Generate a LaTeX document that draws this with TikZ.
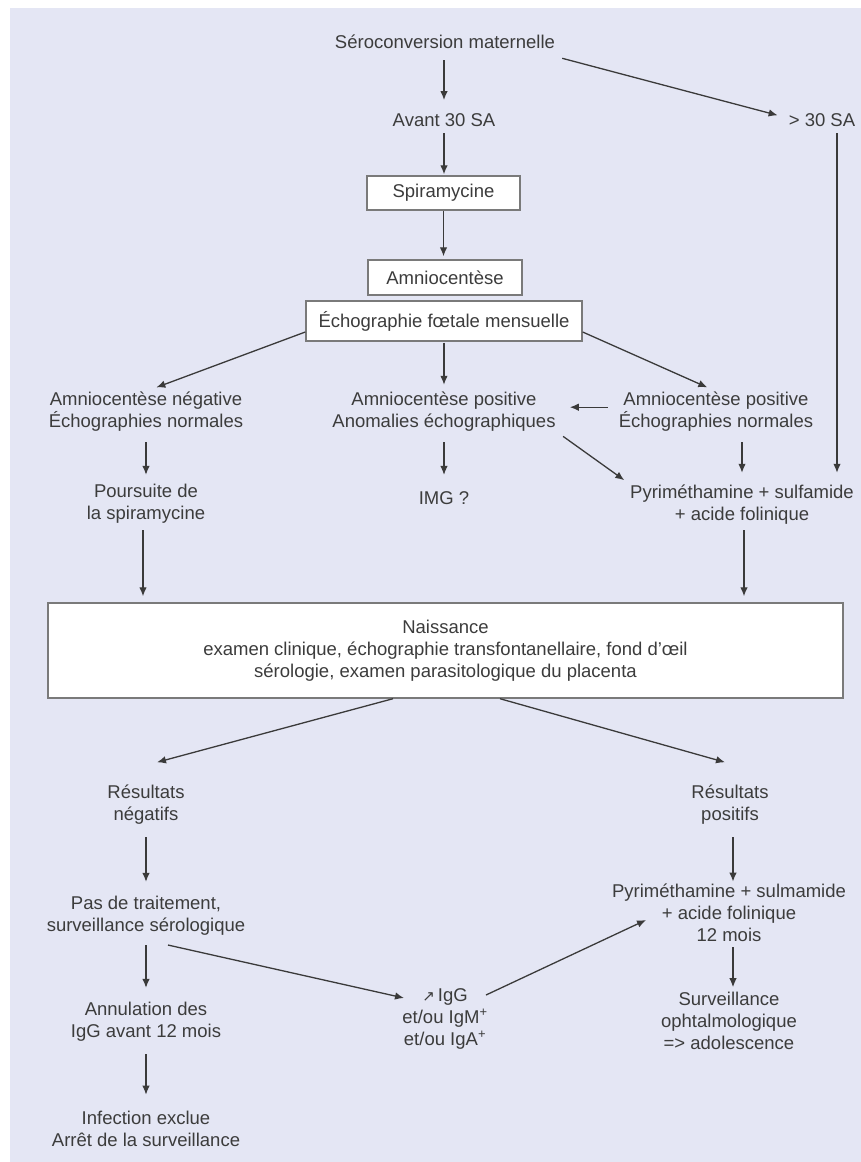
\documentclass[tikz,border=0pt]{standalone}
\usepackage{fontspec}
\setmainfont{Liberation Sans}
\newfontfamily\symfont{DejaVu Sans}
\usetikzlibrary{arrows.meta}
\definecolor{bgcol}{HTML}{E4E6F4}
\definecolor{txtcol}{HTML}{3C3C3C}
\definecolor{lncol}{HTML}{3A3A3A}
\definecolor{boxcol}{HTML}{7A7A7A}
\begin{document}
\begin{tikzpicture}[x=1pt,y=-1pt,
  txt/.style={font=\fontsize{18.5}{22}\selectfont, text=txtcol, align=center, inner sep=0pt},
  bx/.style={txt, draw=boxcol, fill=white, line width=1.4pt},
  arr/.style={draw=lncol, line width=1.3pt, -{Latex[length=9pt,width=7.5pt]}}]
\useasboundingbox (0,0) rectangle (861,1162);
\fill[bgcol] (10,8) rectangle (861,1162);

% text nodes
\node[txt] (sero) at (445,41.3) {Séroconversion maternelle};
\node[txt] (avant) at (444,120.3) {Avant 30 SA};
\node[txt] (plus) at (822,120.3) {> 30 SA};
\node[bx, minimum width=153pt, minimum height=34pt] (spira) at (443.5,193) {Spiramycine};
\node[bx, minimum width=154pt, minimum height=35pt] (amnio) at (445,277.5) {Amniocentèse};
\node[bx, minimum width=276pt, minimum height=40pt] (ech) at (444,321) {Échographie fœtale mensuelle};
\node[txt] (aneg) at (146,411.2) {Amniocentèse négative\\Échographies normales};
\node[txt] (apos) at (444,411.2) {Amniocentèse positive\\Anomalies échographiques};
\node[txt] (aposn) at (716,411.2) {Amniocentèse positive\\Échographies normales};
\node[txt] (pours) at (146,504.2) {Poursuite de\\la spiramycine};
\node[txt] (img) at (444,498.2) {IMG ?};
\node[txt] (pyr) at (742,504.2) {Pyriméthamine + sulfamide\\+ acide folinique};
\node[bx, minimum width=795pt, minimum height=95pt] (nais) at (445.5,650.5)
  {Naissance\\examen clinique, échographie transfontanellaire, fond d'œil\\sérologie, examen parasitologique du placenta};
\node[txt] (resneg) at (146,804.2) {Résultats\\négatifs};
\node[txt] (respos) at (730,804.2) {Résultats\\positifs};
\node[txt] (pas) at (146,916.2) {Pas de traitement,\\surveillance sérologique};
\node[txt] (pyr2) at (729,913.2) {Pyriméthamine + sulmamide\\+ acide folinique\\12 mois};
\node[txt] (annul) at (146,1022.2) {Annulation des\\IgG avant 12 mois};
\node[txt] (igg) at (445,1018.7) {{\symfont\fontsize{15}{15}\selectfont ↗}\,IgG\\et/ou IgM\textsuperscript{+}\\et/ou IgA\textsuperscript{+}};
\node[txt] (surv) at (729,1020.7) {Surveillance\\ophtalmologique\\=> adolescence};
\node[txt] (inf) at (146,1129.2) {Infection exclue\\Arrêt de la surveillance};

% connectors
\draw[arr, shorten <=12pt, shorten >=13.5pt] ([xshift=-1pt]sero.south) -- (avant.north);
\draw[arr] ([xshift=7pt,yshift=-17pt]sero.east) -- ([xshift=-11pt,yshift=5pt]plus.west);
\draw[arr, shorten <=6pt, shorten >=11.5pt] ([xshift=15pt]plus.south) -- ([xshift=15pt]plus.south |- pyr.north);
\draw[arr, shorten <=6pt, shorten >=1pt] (avant.south) -- (avant.south |- spira.north);
\draw[arr, shorten >=3pt] (spira.south) -- (spira.south |- amnio.north);
\draw[arr, shorten >=11pt] ([yshift=-11pt]ech.west) -- (aneg.north);
\draw[arr, shorten <=1pt, shorten >=6.5pt] (ech.south) -- (apos.north);
\draw[arr, shorten >=9.5pt] ([yshift=-11pt]ech.east) -- (aposn.north);
\draw[arr, shorten <=11pt, shorten >=14pt] ([yshift=4pt]aposn.west) -- ([yshift=4pt]apos.east);
\draw[arr, shorten <=9pt, shorten >=7pt] (apos.south east) -- (pyr.north west);
\draw[arr, shorten <=11pt, shorten >=9.5pt] (aneg.south) -- (pours.north);
\draw[arr, shorten <=11pt, shorten >=16.5pt] (apos.south) -- (img.north);
\draw[arr, shorten <=11pt, shorten >=11.5pt] (aposn.south -| pyr.north) -- (pyr.north);
\draw[arr, shorten <=6pt, shorten >=6pt] ([xshift=-3pt]pours.south) -- ([xshift=-3pt]pours.south |- nais.north);
\draw[arr, shorten <=6pt, shorten >=6pt] ([xshift=2pt]pyr.south) -- ([xshift=2pt]pyr.south |- nais.north);
\draw[arr] ([xshift=-52.5pt]nais.south) -- ([xshift=11pt,yshift=22pt]resneg.north);
\draw[arr] ([xshift=54.5pt]nais.south) -- ([xshift=-5pt,yshift=22pt]respos.north);
\draw[arr, shorten <=13pt, shorten >=14.5pt] (resneg.south) -- (pas.north);
\draw[arr, shorten <=13pt, shorten >=2.5pt] ([xshift=3pt]respos.south) -- ([xshift=3pt]respos.south |- pyr2.north);
\draw[arr, shorten <=9pt, shorten >=14.5pt] (pas.south) -- (annul.north);
\draw[arr, shorten <=12pt, shorten >=16.5pt] (annul.south) -- (inf.north);
\draw[arr] ([xshift=22pt,yshift=-9pt]pas.south) -- ([xshift=-41pt,yshift=20.7pt]igg.center);
\draw[arr] ([xshift=41pt,yshift=23.7pt]igg.center) -- ([xshift=-83pt,yshift=-6.8pt]pyr2.center);
\draw[arr, shorten <=5pt, shorten >=4.5pt] ([xshift=4pt]pyr2.south) -- ([xshift=4pt]pyr2.south |- surv.north);
\end{tikzpicture}
\end{document}
